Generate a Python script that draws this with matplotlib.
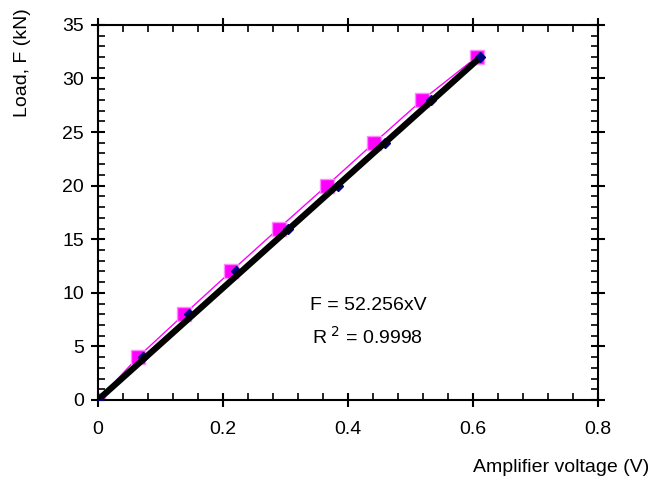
import numpy as np
import matplotlib
matplotlib.use("Agg")
import matplotlib.pyplot as plt
from matplotlib.ticker import MultipleLocator

plt.rcParams['font.family'] = ['Liberation Sans', 'DejaVu Sans']

# load steps (kN)
load = [0, 4, 8, 12, 16, 20, 24, 28, 32]
# amplifier voltage, series 1 (blue diamonds)
volt_a = [0.0, 0.072, 0.146, 0.221, 0.304, 0.384, 0.459, 0.533, 0.611]
# amplifier voltage, series 2 (magenta squares)
volt_b = [0.0, 0.064, 0.138, 0.213, 0.289, 0.366, 0.442, 0.519, 0.606]
slope = 52.256
fit_v = [0.0, 0.608]

fig = plt.figure(figsize=(6.51, 4.84), dpi=100)
ax = fig.add_axes([0.1505, 0.1736, 0.768, 0.775])

ax.plot(volt_b, load, color='#FF00FF', linewidth=1.0, marker='s', markersize=10,
        markerfacecolor='#FF00FF', markeredgecolor='#FF88FF', markeredgewidth=1.0,
        zorder=2)
ax.plot(volt_a, load, linestyle='none', marker='D', markersize=5,
        color='#000080', zorder=3)
ax.plot(fit_v, [slope * v for v in fit_v], color='black', linewidth=4.5,
        solid_capstyle='butt', zorder=4)

ax.text(0.432, 8.8, 'F = 52.256xV', ha='center', va='center', fontsize=14)
ax.text(0.432, 5.9, r'R$^{\ 2}$ = 0.9998', ha='center', va='center', fontsize=14)

ax.set_xlim(0, 0.8)
ax.set_ylim(0, 35)
ax.xaxis.set_major_locator(MultipleLocator(0.2))
ax.xaxis.set_minor_locator(MultipleLocator(0.04))
ax.yaxis.set_major_locator(MultipleLocator(5))
ax.yaxis.set_minor_locator(MultipleLocator(1))
ax.set_xticks([0, 0.2, 0.4, 0.6, 0.8])
ax.set_xticklabels(['0', '0.2', '0.4', '0.6', '0.8'])

for s in ax.spines.values():
    s.set_linewidth(1.5)

ax.tick_params(which='major', direction='inout', length=10, width=1.5,
               labelsize=14, top=True, right=True, pad=5)
ax.tick_params(which='minor', direction='in', length=5, width=1.2,
               top=True, right=True)
ax.tick_params(axis='x', which='major', pad=10)
ax.tick_params(which='both', top=True, right=True, labeltop=False, labelright=False)

fig.text(0.998, 0.035, 'Amplifier voltage (V)', ha='right', va='center', fontsize=14)
fig.text(0.034, 0.982, 'Load, F (kN)', ha='center', va='top', rotation=90, fontsize=14)

fig.savefig('out.png', dpi=100)
